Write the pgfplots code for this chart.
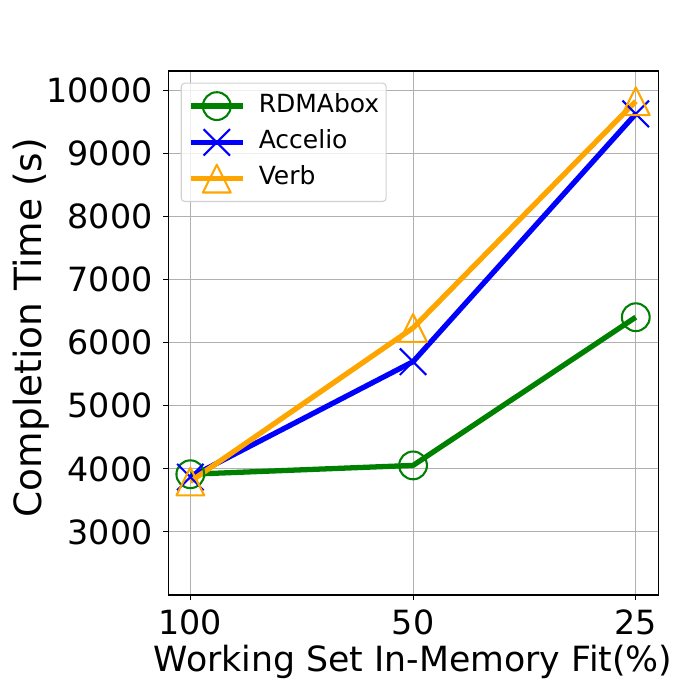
\documentclass[border=0pt]{standalone}
\usepackage{pgfplots}
\pgfplotsset{compat=1.18}
\usepackage{fontspec}
\setmainfont{DejaVu Sans}
\usetikzlibrary{calc}

% matplotlib-like open triangle (width = height)
\pgfdeclareplotmark{mpltri}{%
  \pgfpathmoveto{\pgfqpoint{0pt}{\pgfplotmarksize}}%
  \pgfpathlineto{\pgfqpoint{-\pgfplotmarksize}{-\pgfplotmarksize}}%
  \pgfpathlineto{\pgfqpoint{\pgfplotmarksize}{-\pgfplotmarksize}}%
  \pgfpathclose
  \pgfusepathqstroke}
% matplotlib-like x (spans +-size on both axes)
\pgfdeclareplotmark{mplx}{%
  \pgfpathmoveto{\pgfqpoint{-\pgfplotmarksize}{-\pgfplotmarksize}}%
  \pgfpathlineto{\pgfqpoint{\pgfplotmarksize}{\pgfplotmarksize}}%
  \pgfpathmoveto{\pgfqpoint{-\pgfplotmarksize}{\pgfplotmarksize}}%
  \pgfpathlineto{\pgfqpoint{\pgfplotmarksize}{-\pgfplotmarksize}}%
  \pgfusepathqstroke}

\definecolor{mplgreen}{RGB}{0,128,0}
\definecolor{mplblue}{RGB}{0,0,255}
\definecolor{mplorange}{RGB}{255,165,0}

\begin{document}
\begin{tikzpicture}
\begin{axis}[
  scale only axis, width=352.8pt, height=377.3pt,
  xmin=-0.1, xmax=2.1, ymin=2000, ymax=10310,
  xtick={0,1,2}, xticklabels={100,50,25},
  ytick={3000,4000,5000,6000,7000,8000,9000,10000},
  scaled y ticks=false,
  tick pos=left, tick align=outside, major tick length=3.5pt,
  tick style={black, line width=0.8pt},
  axis line style={line width=0.8pt},
  grid=major, major grid style={color=black!31, line width=0.8pt},
  tick label style={font=\fontsize{24}{28}\selectfont},
  y tick label style={/pgf/number format/1000 sep={}, /pgf/number format/assume math mode=true,
    anchor=east, inner sep=0pt, xshift=-7.5pt},
  x tick label style={anchor=north, inner sep=0pt, yshift=-7pt},
  every axis y label/.style={at={(rel axis cs:-0.241,0.51)}, anchor=south, rotate=90, inner sep=0pt,
    font=\fontsize{27}{32}\selectfont},
  every axis x label/.style={at={(rel axis cs:0.5,-0.1468)}, anchor=base, inner sep=0pt,
    font=\fontsize{25}{30}\selectfont},
  xlabel={Working Set In-Memory Fit(\%)},
  ylabel={Completion Time (s)},
  legend image code/.code={\draw[mark repeat=2,mark phase=2,#1] plot coordinates {(0pt,0pt) (18.7pt,0pt) (37.4pt,0pt)};},
  legend cell align=left,
  legend style={at={(0,1)}, anchor=north west, xshift=9.1pt, yshift=-8.4pt,
    draw=black!18, line width=0.8pt, rounded corners=2.5pt, fill=white, fill opacity=0.8, text opacity=1,
    inner xsep=5pt, inner ysep=6.5pt, row sep=6.6pt,
    font=\fontsize{18}{21}\selectfont,
    nodes={inner sep=0pt, text height=13pt, text depth=4.5pt},
    /tikz/column 2/.style={column sep=0pt},
    /tikz/column 1/.style={column sep=9.6pt}},
  every axis plot/.append style={line width=3.8pt, line join=round},
]
\addplot[mplgreen, mark=o, mark size=10pt, mark options={line width=1.5pt, fill=none}]
  coordinates {(0,3915) (1,4055) (2,6405)};
\addlegendentry{RDMAbox}
\addplot[mplblue, mark=mplx, mark size=9.5pt, mark options={line width=1.5pt}]
  coordinates {(0,3870) (1,5700) (2,9630)};
\addlegendentry{Accelio}
\addplot[mplorange, mark=mpltri, mark size=10pt, mark options={line width=1.5pt}]
  coordinates {(0,3800) (1,6235) (2,9830)};
\addlegendentry{Verb}
\coordinate (sw) at (rel axis cs:0,0);
\coordinate (ne) at (rel axis cs:1,1);
\end{axis}
\path ($(sw)+(-121pt,-75.6pt)$) rectangle ($(ne)+(30.2pt,51.1pt)$);
\end{tikzpicture}
\end{document}
